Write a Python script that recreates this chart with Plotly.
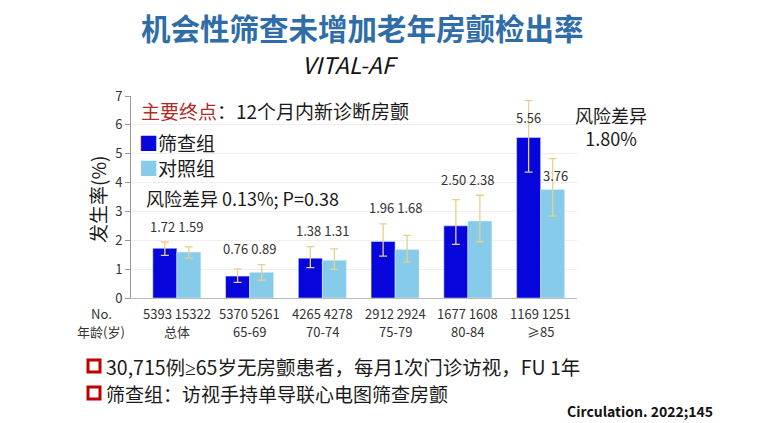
import plotly.graph_objects as go

# ---- data ----
groups = ["总体", "65-69", "70-74", "75-79", "80-84", "≥85"]
n_screen = [5393, 5370, 4265, 2912, 1677, 1169]
n_control = [15322, 5261, 4278, 2924, 1608, 1251]
screen_val = [1.72, 0.76, 1.38, 1.96, 2.50, 5.56]
control_val = [1.59, 0.89, 1.31, 1.68, 2.67, 3.76]
screen_lab = ["1.72", "0.76", "1.38", "1.96", "2.50", "5.56"]
control_lab = ["1.59", "0.89", "1.31", "1.68", "2.38", "3.76"]
screen_hi = [1.94, 1.01, 1.78, 2.57, 3.41, 6.84]
screen_lo = [1.48, 0.54, 1.05, 1.45, 1.86, 4.36]
control_hi = [1.77, 1.16, 1.70, 2.17, 3.56, 4.83]
control_lo = [1.38, 0.62, 0.99, 1.25, 1.95, 2.84]
y_ticks = [0, 1, 2, 3, 4, 5, 6, 7]

C_DARK = "#0505DC"
C_LIGHT = "#86CCEA"
C_ERR = "#E6D08C"
FONT = "Noto Sans CJK SC"

x_idx = list(range(len(groups)))

fig = go.Figure()
fig.add_trace(go.Bar(
    x=x_idx, y=screen_val, name="筛查组", marker_color=C_DARK,
    error_y=dict(type="data", symmetric=False,
                 array=[h - v for h, v in zip(screen_hi, screen_val)],
                 arrayminus=[v - l for v, l in zip(screen_val, screen_lo)],
                 color=C_ERR, thickness=1.3, width=4),
))
fig.add_trace(go.Bar(
    x=x_idx, y=control_val, name="对照组", marker_color=C_LIGHT,
    error_y=dict(type="data", symmetric=False,
                 array=[h - v for h, v in zip(control_hi, control_val)],
                 arrayminus=[v - l for v, l in zip(control_val, control_lo)],
                 color=C_ERR, thickness=1.3, width=4),
))

L, R, T, B = 131, 577, 96, 298
W, H = 763, 423


def px(xp):
    return (xp - L) / (R - L)


def py(yp):
    return (B - yp) / (B - T)


# value labels
ann = []
for i in x_idx[:-1]:
    ann.append(dict(x=i, y=max(screen_hi[i], control_hi[i]) + 0.55, xref="x", yref="y",
                    text=f"{screen_lab[i]} {control_lab[i]}", showarrow=False,
                    font=dict(size=13, color="#333333", family=FONT)))
last = x_idx[-1]
ann.append(dict(x=last - 0.165, y=screen_val[last] + 0.68, xref="x", yref="y",
                text=screen_lab[last], showarrow=False,
                font=dict(size=13, color="#333333", family=FONT)))
ann.append(dict(x=last + 0.2, y=control_val[last] + 0.5, xref="x", yref="y",
                text=control_lab[last], showarrow=False,
                font=dict(size=13, color="#333333", family=FONT)))

# category labels under axis (two rows)
for i in x_idx:
    ann.append(dict(x=i, y=py(313), xref="x", yref="paper", yanchor="middle",
                    text=f"{n_screen[i]} {n_control[i]}", showarrow=False,
                    font=dict(size=13, color="#333333", family=FONT)))
    ann.append(dict(x=i, y=py(331), xref="x", yref="paper", yanchor="middle",
                    text=groups[i], showarrow=False,
                    font=dict(size=13, color="#333333", family=FONT)))


def txt(x, y, text, size, color="#1a1a1a", xanchor="left", **kw):
    ann.append(dict(x=px(x), y=py(y), xref="paper", yref="paper", text=text,
                    showarrow=False, xanchor=xanchor, yanchor="middle",
                    font=dict(size=size, color=color, family=FONT), **kw))


GE = '<span style="font-family:Noto Sans">≥</span>'

# titles
txt(362, 27, "<b>机会性筛查未增加老年房颤检出率</b>", 29.5, color="#2F6DA8", xanchor="center")
txt(350, 64, "<i>VITAL-AF</i>", 23, color="#111111", xanchor="center")

# in-plot legend / notes
txt(139, 111, '<span style="color:#B02A2A">主要终点</span>：12个月内新诊断房颤', 19)
txt(137, 142, f'<span style="color:{C_DARK}">■</span>筛查组', 19)
txt(137, 167, f'<span style="color:{C_LIGHT}">■</span>对照组', 19)
txt(144, 198, "风险差异 0.13%; P=0.38", 18)
txt(611, 126, "风险差异<br>1.80%", 18, xanchor="center")

# y title
txt(97, 200, "发生率(%)", 19, xanchor="center", textangle=-90)

# x-axis side labels
txt(101, 313, "No.", 13, color="#333333", xanchor="center")
txt(101, 331, "年龄(岁)", 13, color="#333333", xanchor="center")

# bullets
txt(104, 366, f"30,715例{GE}65岁无房颤患者，每月1次门诊访视，FU 1年", 19.5)
txt(104, 393, "筛查组：访视手持单导联心电图筛查房颤", 19)
txt(565, 411, "<b>Circulation. 2022;145</b>", 14, color="#111111")

shapes = []
for yc in (366, 393):
    shapes.append(dict(type="rect", xref="paper", yref="paper",
                       x0=px(88), x1=px(100), y0=py(yc + 6), y1=py(yc - 6),
                       line=dict(color="#C00000", width=3), fillcolor="white"))

fig.update_layout(
    width=W, height=H,
    margin=dict(l=L, r=W - R, t=T, b=H - B, pad=0),
    paper_bgcolor="white", plot_bgcolor="white",
    barmode="group", bargap=0.34, bargroupgap=0,
    showlegend=False,
    annotations=ann, shapes=shapes,
    font=dict(family=FONT),
    xaxis=dict(range=[-0.63, 5.5], tickmode="array", tickvals=x_idx,
               showticklabels=False,
               showline=True, linecolor="#BBBBBB", linewidth=1, ticks="", showgrid=False,
               zeroline=False),
    yaxis=dict(range=[0, 7], tickmode="array", tickvals=y_ticks,
               tickfont=dict(size=13, color="#333333", family=FONT),
               showline=True, linecolor="#999999", linewidth=1, ticks="outside",
               ticklen=5, tickcolor="#999999",
               showgrid=True, gridcolor="#EEEEEE", zeroline=False),
)

fig.write_html("out.html", config={"displayModeBar": False},
               post_script="document.body.style.margin='0px';document.body.style.overflow='hidden';")
